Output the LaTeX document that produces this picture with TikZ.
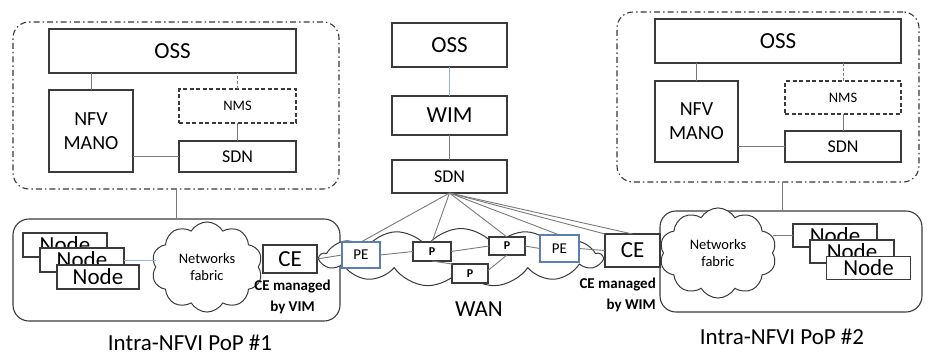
\documentclass[tikz,border=0pt]{standalone}
\usepackage{fontspec}
\setmainfont{Carlito}
\usetikzlibrary{shapes.symbols,calc}
\definecolor{boxline}{HTML}{3A3A3A}
\definecolor{wirecol}{HTML}{7A7A7A}
\definecolor{peblue}{HTML}{5B7DB5}
\definecolor{lightwire}{HTML}{9AB3D5}

\begin{document}
\begin{tikzpicture}[x=1pt,y=-1pt,
  sz/.style 2 args={minimum width=#1, minimum height=#2},
  box/.style={draw=boxline, line width=1.1pt, fill=white, inner sep=0pt, outer sep=0pt, align=center},
  dbox/.style={box, dash pattern=on 4pt off 2.5pt},
  pebox/.style={box, draw=peblue},
  group/.style={draw=black!78, line width=1.1pt, rounded corners=16pt, inner sep=0pt, outer sep=0pt,
                dash pattern=on 6pt off 3pt on 1.5pt off 3pt},
  pop/.style={draw=boxline, line width=1.1pt, rounded corners=16pt, inner sep=0pt, outer sep=0pt},
  cloudy/.style={cloud, draw=boxline, line width=1pt, fill=white, inner sep=0pt, outer sep=0pt, align=center},
  wire/.style={draw=wirecol, line width=0.9pt},
  lbl/.style={inner sep=1pt},
  fbig/.style={font=\fontsize{23}{26}\selectfont},
  fmano/.style={font=\fontsize{20}{24}\selectfont},
  fsdn/.style={font=\fontsize{18}{20}\selectfont},
  fsmall/.style={font=\fontsize{14.5}{17}\selectfont},
  fpe/.style={font=\fontsize{15}{17}\selectfont},
  fp/.style={font=\bfseries\fontsize{12}{14}\selectfont},
  fnote/.style={font=\bfseries\fontsize{15}{21}\selectfont},
]
\useasboundingbox (0,0) rectangle (930,354);

% ---------- left management domain ----------
\node[group, sz={326}{167}] (cL) at (176,105.5) {};
\node[box, sz={247}{44}, fbig] (oss1) at (172.5,51) {OSS};
\node[box, sz={84}{82}, fmano] (mano1) at (91,131) {NFV\\MANO};
\node[dbox, sz={117}{34}, fsmall] (nms1) at (237.5,106) {NMS};
\node[box, sz={117}{31}, fsdn] (sdn1) at (237.5,156.5) {SDN};
\draw[wire] (mano1.north) -- (mano1.north |- oss1.south);
\draw[wire, dash pattern=on 3pt off 2pt] (nms1.north) -- (nms1.north |- oss1.south);
\draw[wire] (nms1.south) -- (sdn1.north);
\draw[wire] (sdn1.west) -- (sdn1.west -| mano1.east);

% ---------- WAN management stack ----------
\node[box, sz={115}{44}, fbig] (oss2) at (449.5,45) {OSS};
\node[box, sz={115}{39}, fbig] (wim) at (449.5,115.5) {WIM};
\node[box, sz={115}{33}, fsdn] (sdn2) at (449.5,176.5) {SDN};
\draw[lightwire, line width=0.9pt] (oss2.south) -- (wim.north);
\draw[wire] (wim.south) -- (sdn2.north);

% ---------- right management domain ----------
\node[group, sz={302}{170}] (cR) at (768,97) {};
\node[box, sz={246}{44}, fbig] (oss3) at (778,41) {OSS};
\node[box, sz={83}{81}, fmano] (mano3) at (696.5,121.5) {NFV\\MANO};
\node[dbox, sz={116}{33}, fsmall] (nms3) at (843,97.5) {NMS};
\node[box, sz={116}{31}, fsdn] (sdn3) at (843,146.5) {SDN};
\draw[wire] (mano3.north) -- (mano3.north |- oss3.south);
\draw[wire, dash pattern=on 3pt off 2pt] (nms3.north) -- (nms3.north |- oss3.south);
\draw[wire] (nms3.south) -- (sdn3.north);
\draw[wire] (sdn3.west) -- (sdn3.west -| mano3.east);

% ---------- PoP containers ----------
\node[pop, sz={327}{102}] (pop1) at (176.5,270) {};
\node[pop, sz={262}{101}] (pop2) at (791,261.5) {};
\draw[wire] (cL.south) -- (cL.south |- pop1.north);
\draw[wire] ([xshift=14pt]cR.south) -- ([xshift=14pt]cR.south |- pop2.north);

% ---------- WAN cloud ----------
\node[cloudy, cloud puffs=13, cloud puff arc=110, sz={282}{58}] (wan) at (461,257.5) {};
\node[lbl, fbig] (wanlbl) at (479,309) {WAN};

% ---------- PoP #1 ----------
\node[cloudy, cloud puffs=10, cloud puff arc=120, sz={111}{55}, fsmall] (fab1) at (207,267) {Networks\\fabric};
\node[box, sz={84}{24}, fbig] (n1a) at (65,245) {Node};
\node[box, sz={84}{24}, fbig] (n1b) at (82,260) {Node};
\node[box, sz={82}{24}, fbig] (n1c) at (98,277) {Node};
\draw[lightwire, line width=0.9pt] (n1b.east) -- (n1b.east -| fab1.west);
\node[box, sz={54}{28}, fbig] (ce1) at (290,259) {CE};
\node[lbl, fnote, align=center] (ce1note) at (292.5,297) {CE managed\\by VIM};
\node[lbl, fbig] (pop1lbl) at (190,343) {Intra-NFVI PoP \#1};

% ---------- PoP #2 ----------
\node[cloudy, cloud puffs=10, cloud puff arc=120, sz={117}{63}, fsmall] (fab2) at (718,253) {Networks\\fabric};
\node[box, sz={84}{23}, fbig] (n2a) at (835,235.5) {Node};
\node[box, sz={84}{23}, fbig] (n2b) at (852,251.5) {Node};
\node[box, sz={84}{23}, fbig] (n2c) at (868.5,268) {Node};
\draw[wire] (n2a.west) -- (n2a.west -| fab2.east);
\node[box, sz={55}{33}, fbig] (ce2) at (632.5,250.5) {CE};
\node[lbl, fnote, align=right, anchor=east] (ce2note) at (657,295) {CE managed\\by WIM};
\node[lbl, fbig] (pop2lbl) at (782,337) {Intra-NFVI PoP \#2};

% ---------- WAN routers ----------
\node[pebox, sz={38}{26}, fpe] (pe1) at (361,255) {PE};
\node[box, sz={38}{19}, fp] (p1) at (432,251.5) {P};
\node[box, sz={36}{18}, fp] (p2) at (507,246) {P};
\node[box, sz={36}{19}, fp] (p3) at (470,273.5) {P};
\node[pebox, sz={39}{27}, fpe] (pe2) at (559.5,248.5) {PE};

% data-plane links
\draw[wire] (ce1.east) -- (pe1.west);
\draw[wire] (pe1.east) -- (p1.west);
\draw[wire] (p1.east) -- (p2.west);
\draw[wire] (p2.east) -- (pe2.west);
\draw[wire] (p1.south) -- (p3.north west);
\draw[wire] (p2.south) -- ([yshift=3pt]p3.east);
\draw[wire] (pe2.east) -- (ce2.west);
% SDN control links
\draw[wire] (sdn2.south) -- (pe1.north);
\draw[wire] (sdn2.south) -- (p1.north);
\draw[wire] (sdn2.south) -- (p2.north);
\draw[wire] (sdn2.south) -- (pe2.north);
\draw[wire] (sdn2.south) -- (ce2.north west);
\draw[wire] (sdn2.south) -- (ce2.north);
\end{tikzpicture}
\end{document}
